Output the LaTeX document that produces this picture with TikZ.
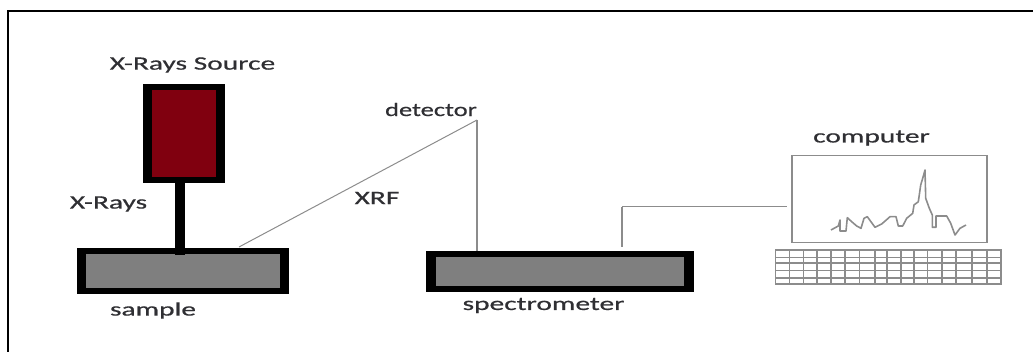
\documentclass[tikz,border=0pt]{standalone}
\usepackage{fontspec}
\setmainfont[FakeStretch=1.55,FakeBold=0.6]{Carlito}
\definecolor{ink}{HTML}{2F2F33}
\definecolor{wire}{HTML}{8C8C8C}
\definecolor{srcred}{HTML}{80000F}
\definecolor{plate}{HTML}{7F7F7F}
\tikzset{
  outerbox/.style={fill=black,draw=none,inner sep=0pt},
  innerbox/.style={draw=none,inner sep=0pt},
  lbl/.style={text=ink,inner sep=0pt,font=\fontsize{19}{22}\selectfont},
  wireline/.style={draw=wire,line width=1.5pt},
  thinwire/.style={draw=wire,line width=1pt},
  keyline/.style={draw=wire,line width=1.6pt},
  frameline/.style={draw=black,line width=2.6pt},
}
\begin{document}
\begin{tikzpicture}[x=1pt,y=-1pt]
\useasboundingbox (0,0) rectangle (1033,352);
\draw[frameline] (8,352) -- (8,11) -- (1033,11);
% source
\node[outerbox,minimum width=82pt,minimum height=99pt] (srcO) at (184,133.5) {};
\node[innerbox,fill=srcred,minimum width=64pt,minimum height=87pt] (srcI) at (184,133.5) {};
% sample
\node[outerbox,minimum width=212pt,minimum height=46pt] (smpO) at (183,271) {};
\node[innerbox,fill=plate,minimum width=194pt,minimum height=34pt] (smpI) at (183,271) {};
% beam
\coordinate (beamEnd) at (180,255);
\draw[line width=10pt,draw=black] (srcO.south) ++(-4,0) coordinate (beamTop) -- (beamEnd);
% spectrometer
\node[outerbox,minimum width=268pt,minimum height=41.5pt] (spcO) at (560,271.3) {};
\node[innerbox,fill=plate,minimum width=248.5pt,minimum height=28.5pt] (spcI) at (560,271.3) {};
% detector
\coordinate (apex) at (477,120);
\coordinate (smpHit) at (239,247);
\coordinate (spcHit) at (477,251);
\draw[thinwire] (smpHit) -- (apex);
\draw[wireline] (apex) -- (spcHit);
% monitor and keyboard
\node[draw=wire,line width=1.6pt,inner sep=0pt,minimum width=195.5pt,minimum height=87pt] (mon) at (889.5,199.2) {};
\coordinate (spcOut) at (622,247);
\coordinate (bend) at (622,207);
\coordinate (monIn) at (787,207);
\draw[wireline] (spcOut) -- (bend);
\draw[thinwire] (bend) -- (monIn);
\node[draw=wire,line width=1.6pt,inner sep=0pt,minimum width=225.5pt,minimum height=33.5pt] (kbd) at (888.2,267) {};
\foreach \x in {789.3,803.3,816.7,830.7,845,859.3,875,886.7,900.7,914,927.3,941.7,956,971.7,986.7}
  \draw[keyline] (\x,250.2) -- (\x,283.8);
\foreach \y in {257.5,263,270.5,278}
  \draw[keyline] (775.5,\y) -- (1001,\y);
% spectrum
\draw[draw=wire,line width=1.6pt,line join=round]
 (831,230) -- (838.3,226) -- (840,220) -- (840,231) -- (846,231) -- (847.3,217.7) -- (851.7,221.7)
 -- (856.7,226) -- (861,228.3) -- (864,218.3) -- (867.3,216.7) -- (875,227.3) -- (881.7,224)
 -- (890,216.7) -- (896,216.7) -- (898.3,226) -- (902.7,226) -- (906.7,218.3) -- (912.7,213.3)
 -- (914,205) -- (918.3,201.7) -- (920.7,185) -- (922.7,178.3) -- (925,170) -- (925.7,198.3)
 -- (929.3,208.3) -- (932.3,215) -- (932.3,227.3) -- (936,227.3) -- (936,216) -- (946.7,216)
 -- (950.7,223.3) -- (955,235) -- (960,228.3) -- (966,225);
% labels
\node[lbl] (tSrc) at (192.5,65) {X-Rays Source};
\node[lbl] (tDet) at (431,109.5) {\scalebox{0.9}[1]{detector}};
\node[lbl] (tXrf) at (377,198) {XRF};
\node[lbl] (tRay) at (108.5,204) {X-Rays};
\node[lbl] (tSmp) at (153,310.5) {sample};
\node[lbl] (tSpc) at (543.5,305.5) {spectrometer};
\node[lbl] (tCom) at (871.5,138) {computer};
\end{tikzpicture}
\end{document}
